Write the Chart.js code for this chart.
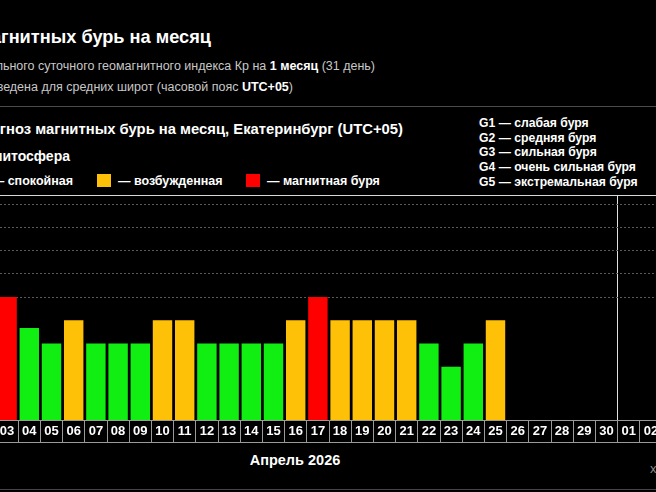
<!DOCTYPE html>
<html lang="ru">
<head>
<meta charset="utf-8">
<title>Прогноз магнитных бурь на месяц</title>
<script src="https://cdn.jsdelivr.net/npm/chart.js@4"></script>
<style>
  html, body { margin: 0; padding: 0; background: #000; }
  #page { position: relative; width: 656px; height: 492px; overflow: hidden; background: #000;
          font-family: "Liberation Sans", Arial, sans-serif; color: #fff; }
  .abs { position: absolute; white-space: nowrap; line-height: 1; }
  .hr { position: absolute; left: 0; width: 656px; height: 1px; }
  .sq { display: inline-block; width: 14px; height: 13px; vertical-align: -2px; }
  b { color: #fff; }
</style>
</head>
<body>
<div id="page">
  <div class="abs" style="right:445px; top:28px; font-weight:bold; font-size:18.2px;">Прогноз магнитных бурь на месяц</div>
  <div class="abs" style="right:281px; top:60px; font-size:12.5px; color:#c8c8c8;">Прогноз максимального суточного геомагнитного индекса Кр на <b>1 месяц</b> (31 день)</div>
  <div class="abs" style="right:363px; top:81px; font-size:12.5px; color:#c8c8c8;">Информация приведена для средних широт (часовой пояс <b>UTC+05</b>)</div>
  <div class="hr" style="top:106px; background:#4a4a4a;"></div>

  <div class="abs" style="right:253px; top:122px; font-weight:bold; font-size:14.8px;">Прогноз магнитных бурь на месяц, Екатеринбург (UTC+05)</div>
  <div class="abs" style="right:586px; top:149px; font-weight:bold; font-size:14px;">Магнитосфера</div>
  <div class="abs" style="right:583px; top:174px; font-weight:bold; font-size:12.5px;"><span class="sq" style="background:#11ee11"></span>&nbsp;&nbsp;— спокойная</div>
  <div class="abs" style="left:97px; top:174px; font-weight:bold; font-size:12.5px;"><span class="sq" style="background:#ffc107"></span>&nbsp;&nbsp;— возбужденная</div>
  <div class="abs" style="left:246px; top:174px; font-weight:bold; font-size:12.5px;"><span class="sq" style="background:#ff0000"></span>&nbsp;&nbsp;— магнитная буря</div>
  <div class="abs" style="left:479px; top:116px; font-weight:bold; font-size:12.2px; line-height:14.7px;">
    G1 — слабая буря<br>G2 — средняя буря<br>G3 — сильная буря<br>G4 — очень сильная буря<br>G5 — экстремальная буря
  </div>

  <div class="hr" style="top:195px; background:#d8d8d8;"></div>
  <div id="chartBox" style="position:absolute; left:-4px; top:195px; width:666px; height:248px;">
    <canvas id="kpChart"></canvas>
  </div>
  <div class="hr" style="top:442px; background:#9a9a9a;"></div>

  <div class="abs" style="left:195px; width:200px; text-align:center; top:453px; font-weight:bold; font-size:14.5px;">Апрель 2026</div>
  <div class="abs" style="left:650px; top:462px; font-size:13px; color:#8a8a8a;">xras.ru</div>
  <div class="hr" style="top:489px; background:#444;"></div>
</div>

<script>
// дни на графике (видимая часть: 03 апреля .. 02 мая)
const days = ['03', '04', '05', '06', '07', '08', '09', '10', '11', '12', '13', '14', '15', '16',
              '17', '18', '19', '20', '21', '22', '23', '24', '25', '26', '27', '28', '29', '30',
              '01', '02'];
// максимальный суточный Kp
const kpValues = [5, 3.67, 3, 4, 3, 3, 3, 4, 4, 3, 3, 3, 3, 4,
                  5, 4, 4, 4, 4, 3, 2, 3, 4, null, null, null, null, null,
                  null, null];
// уровни бурь G1..G5 (пунктир)
const kpLevels = [5, 6, 7, 8, 9];
const kpMin = -0.3;
const kpMax = 9.4;

const COLOR_CALM = '#11ee11';
const COLOR_ACTIVE = '#ffc107';
const COLOR_STORM = '#ff0000';

function barColor(v) {
    if (v >= 5) return COLOR_STORM;
    if (v >= 4) return COLOR_ACTIVE;
    return COLOR_CALM;
}

// начало следующего месяца — белая вертикальная линия
const monthStart = days.indexOf('01');

new Chart(document.getElementById('kpChart'), {
    type: 'bar',
    data: {
        labels: days,
        datasets: [{
            data: kpValues,
            base: kpMin,
            backgroundColor: kpValues.map(barColor),
            barPercentage: 0.875,
            categoryPercentage: 1.0
        }]
    },
    options: {
        responsive: true,
        maintainAspectRatio: false,
        animation: false,
        layout: { padding: 0 },
        plugins: {
            legend: { display: false },
            tooltip: { enabled: false }
        },
        scales: {
            x: {
                grid: {
                    offset: true,
                    color: ctx => ctx.index === monthStart ? '#e0e0e0' : 'rgba(0,0,0,0)',
                    tickColor: '#9a9a9a',
                    tickLength: 23,
                    lineWidth: 1
                },
                border: { display: true, color: '#9a9a9a' },
                ticks: {
                    color: '#ffffff',
                    font: { family: '"Liberation Sans", Arial, sans-serif', size: 13, weight: 'bold' },
                    padding: -19,
                    autoSkip: false,
                    maxRotation: 0
                },
                afterFit: scale => { scale.height = 23; }
            },
            y: {
                min: kpMin,
                max: kpMax,
                grid: { color: '#5a5a5a', drawTicks: false },
                border: { display: false, dash: [2, 2] },
                ticks: { display: false },
                afterBuildTicks: scale => { scale.ticks = kpLevels.map(v => ({ value: v })); },
                afterFit: scale => { scale.width = 0; }
            }
        }
    }
});
</script>
</body>
</html>
